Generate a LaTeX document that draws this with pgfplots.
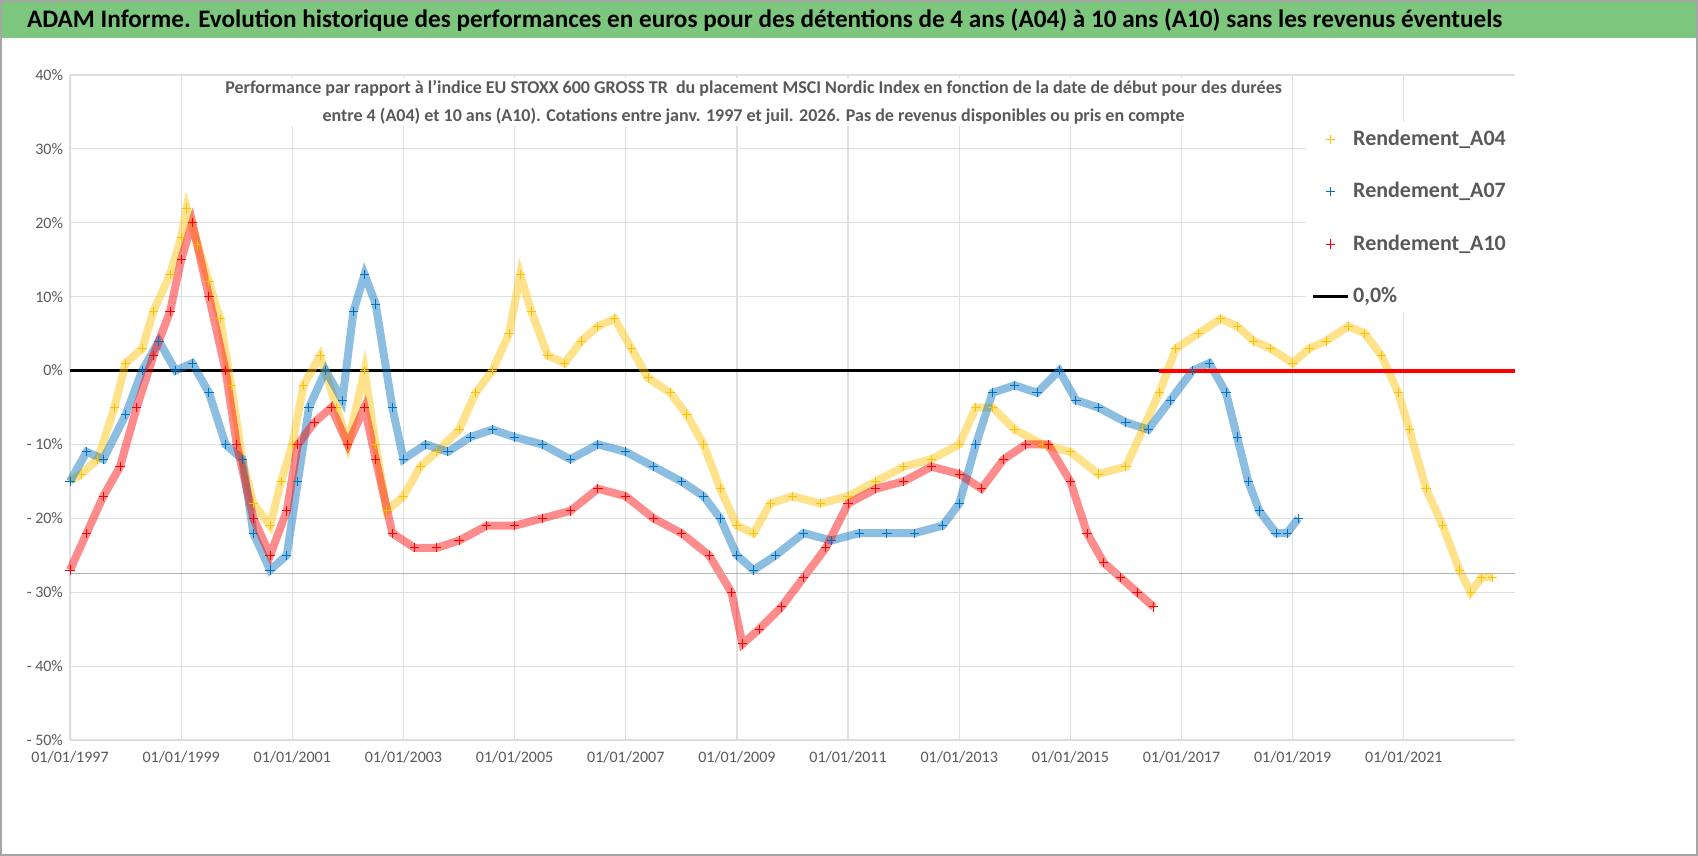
\documentclass[border=0pt]{standalone}
\usepackage{pgfplots}
\usepackage{pgfplotstable}
\pgfplotsset{compat=1.18}
\usepackage{fontspec}
\setmainfont{Carlito}
\definecolor{ylw}{HTML}{FFC000}
\definecolor{blu}{HTML}{0070C0}
\definecolor{rd}{HTML}{FF0000}
\definecolor{txt}{HTML}{595959}
\definecolor{ban}{HTML}{7DC67D}
\pgfplotstableread{
x y
1997.0 -15
1997.2 -14
1997.5 -12
1997.8 -5
1998.0 1
1998.3 3
1998.5 8
1998.8 13
1999.0 18
1999.1 22
1999.3 17
1999.5 12
1999.7 7
1999.9 -2
2000.1 -12
2000.3 -18
2000.6 -21
2000.8 -15
2001.0 -10
2001.2 -2
2001.5 2
2001.8 -5
2002.0 -10
2002.3 0
2002.5 -10
2002.7 -19
2003.0 -17
2003.3 -13
2003.6 -11
2004.0 -8
2004.3 -3
2004.6 0
2004.9 5
2005.1 13
2005.3 8
2005.6 2
2005.9 1
2006.2 4
2006.5 6
2006.8 7
2007.1 3
2007.4 -1
2007.8 -3
2008.1 -6
2008.4 -10
2008.7 -16
2009.0 -21
2009.3 -22
2009.6 -18
2010.0 -17
2010.5 -18
2011.0 -17
2011.5 -15
2012.0 -13
2012.5 -12
2013.0 -10
2013.3 -5
2013.6 -5
2014.0 -8
2014.5 -10
2015.0 -11
2015.5 -14
2016.0 -13
2016.3 -8
2016.6 -3
2016.9 3
2017.3 5
2017.7 7
2018.0 6
2018.3 4
2018.6 3
2019.0 1
2019.3 3
2019.6 4
2020.0 6
2020.3 5
2020.6 2
2020.9 -3
2021.1 -8
2021.4 -16
2021.7 -21
2022.0 -27
2022.2 -30
2022.4 -28
2022.6 -28
}\Afour
\pgfplotstableread{
x y
1997.0 -15
1997.3 -11
1997.6 -12
1998.0 -6
1998.3 0
1998.6 4
1998.9 0
1999.2 1
1999.5 -3
1999.8 -10
2000.1 -12
2000.3 -22
2000.6 -27
2000.9 -25
2001.1 -15
2001.3 -5
2001.6 0
2001.9 -4
2002.1 8
2002.3 13
2002.5 9
2002.8 -5
2003.0 -12
2003.4 -10
2003.8 -11
2004.2 -9
2004.6 -8
2005.0 -9
2005.5 -10
2006.0 -12
2006.5 -10
2007.0 -11
2007.5 -13
2008.0 -15
2008.4 -17
2008.7 -20
2009.0 -25
2009.3 -27
2009.7 -25
2010.2 -22
2010.7 -23
2011.2 -22
2011.7 -22
2012.2 -22
2012.7 -21
2013.0 -18
2013.3 -10
2013.6 -3
2014.0 -2
2014.4 -3
2014.8 0
2015.1 -4
2015.5 -5
2016.0 -7
2016.4 -8
2016.8 -4
2017.2 0
2017.5 1
2017.8 -3
2018.0 -9
2018.2 -15
2018.4 -19
2018.7 -22
2018.9 -22
2019.1 -20
}\Aseven
\pgfplotstableread{
x y
1997.0 -27
1997.3 -22
1997.6 -17
1997.9 -13
1998.2 -5
1998.5 2
1998.8 8
1999.0 15
1999.2 20
1999.5 10
1999.8 0
2000.0 -10
2000.3 -20
2000.6 -25
2000.9 -19
2001.1 -10
2001.4 -7
2001.7 -5
2002.0 -10
2002.3 -5
2002.5 -12
2002.8 -22
2003.2 -24
2003.6 -24
2004.0 -23
2004.5 -21
2005.0 -21
2005.5 -20
2006.0 -19
2006.5 -16
2007.0 -17
2007.5 -20
2008.0 -22
2008.5 -25
2008.9 -30
2009.1 -37
2009.4 -35
2009.8 -32
2010.2 -28
2010.6 -24
2011.0 -18
2011.5 -16
2012.0 -15
2012.5 -13
2013.0 -14
2013.4 -16
2013.8 -12
2014.2 -10
2014.6 -10
2015.0 -15
2015.3 -22
2015.6 -26
2015.9 -28
2016.2 -30
2016.5 -32
}\Aten
\begin{document}
\begin{tikzpicture}[x=1pt,y=1pt]
\fill[white] (0,0) rectangle (849,428);
\draw[gray!70,line width=0.8pt] (0.5,0.5) rectangle (848.5,427.5);
\fill[ban] (1,409) rectangle (848,427);
\node[anchor=west,font=\bfseries\fontsize{12.6}{14}\selectfont] at (10,418) {ADAM Informe. Evolution historique des performances en euros pour des détentions de 4 ans (A04) à 10 ans (A10) sans les revenus éventuels};
\begin{axis}[at={(35pt,58pt)},anchor=south west,scale only axis,width=722.5pt,height=332.5pt,
  xmin=1997,xmax=2023,ymin=-50,ymax=40,
  xtick={1997,1999,...,2021},
  xticklabels={01/01/1997,01/01/1999,01/01/2001,01/01/2003,01/01/2005,01/01/2007,01/01/2009,01/01/2011,01/01/2013,01/01/2015,01/01/2017,01/01/2019,01/01/2021},
  ytick={-50,-40,...,40},
  yticklabels={- 50\%,- 40\%,- 30\%,- 20\%,- 10\%,0\%,10\%,20\%,30\%,40\%},
  grid=major,grid style={gray!25,line width=0.6pt},
  axis line style={gray!30},axis x line*=bottom,axis y line*=left,
  tick style={draw=none},
  ticklabel style={font=\fontsize{8}{9}\selectfont,text=txt},
  xticklabel style={yshift=-2pt},
  legend style={at={(0.855,0.93)},anchor=north west,draw=none,fill=white,
    font=\fontsize{11}{13}\selectfont\bfseries,text=txt,row sep=13pt},
  legend cell align=left,
  clip=false,
  ]
\addplot[ylw,only marks,mark=+,mark size=2.3pt,line width=0.5pt] table{\Afour};
\addlegendentry{Rendement\_A04}
\addplot[blu,only marks,mark=+,mark size=2.3pt,line width=0.5pt] table{\Aseven};
\addlegendentry{Rendement\_A07}
\addplot[rd,only marks,mark=+,mark size=2.3pt,line width=0.5pt] table{\Aten};
\addlegendentry{Rendement\_A10}
\addplot[black,line width=1.6pt,no marks] coordinates{(1997,0) (2016.6,0)};
\addlegendentry{0,0\%}
\addplot[ylw,line width=4pt,opacity=0.45,no marks,forget plot] table{\Afour};
\addplot[blu,line width=4pt,opacity=0.45,no marks,forget plot] table{\Aseven};
\addplot[rd,line width=4pt,opacity=0.45,no marks,forget plot] table{\Aten};
\addplot[rd,line width=2pt,no marks,forget plot] coordinates{(2016.6,0) (2023,0)};
\addplot[gray!60,line width=0.6pt,no marks,forget plot] coordinates{(1997,-27.5) (2023,-27.5)};
\node[align=center,font=\bfseries\fontsize{9}{14}\selectfont,text=txt,fill=white,inner sep=1pt] at (axis cs:2009.3,36.3) {Performance par rapport à l'indice EU STOXX 600 GROSS TR\ \ du placement MSCI Nordic Index en fonction de la date de début pour des durées\\entre 4 (A04) et 10 ans (A10). Cotations entre janv. 1997 et juil. 2026. Pas de revenus disponibles ou pris en compte};
\end{axis}
\end{tikzpicture}
\end{document}
